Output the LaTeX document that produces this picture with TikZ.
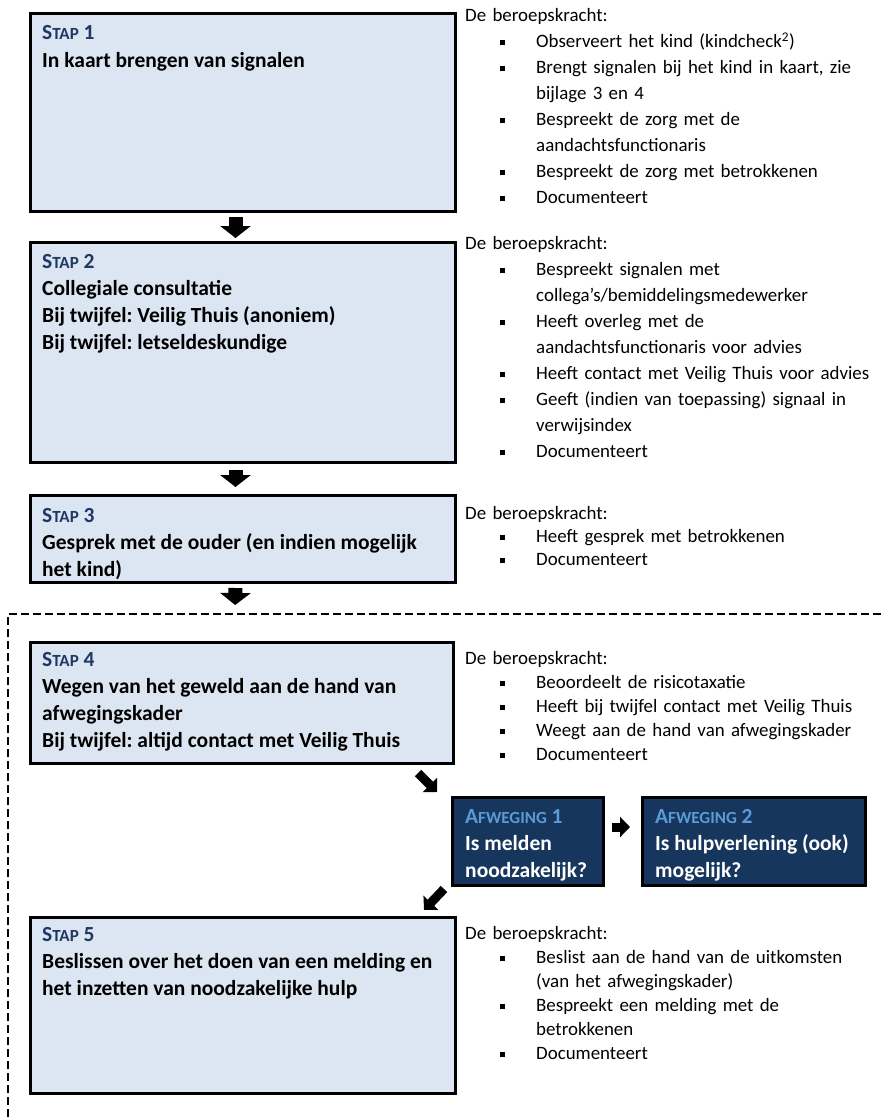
\documentclass[tikz,border=0pt]{standalone}
\usepackage{fontspec}
\setmainfont{Carlito}
\usetikzlibrary{arrows.meta}
\frenchspacing

\definecolor{stapfill}{HTML}{DCE6F2}
\definecolor{stapblue}{HTML}{1F3864}
\definecolor{wegnavy}{HTML}{17365D}
\definecolor{weglabel}{HTML}{5B9BD5}

% kopjes in (nagemaakte) kleinkapitaal
\newcommand{\stap}[1]{{\color{stapblue}S{\fontsize{17}{27}\selectfont TAP}~#1}}
\newcommand{\afw}[1]{{\color{weglabel}A{\fontsize{17}{27}\selectfont FWEGING}~#1}}

% opsomming met vierkante bolletjes
\newenvironment{taken}{\begin{list}{\rule[1.9pt]{5pt}{5pt}}{%
    \setlength{\leftmargin}{71pt}\setlength{\labelwidth}{30pt}%
    \setlength{\labelsep}{31pt}\setlength{\itemsep}{0pt}%
    \setlength{\parsep}{0pt}\setlength{\topsep}{0pt}%
    \setlength{\partopsep}{0pt}}}{\end{list}}

\tikzset{
    stapbox/.style={draw, line width=3pt, fill=stapfill, anchor=north west,
        inner sep=0pt, outer sep=0pt},
    wegbox/.style={draw, line width=3pt, fill=wegnavy, anchor=north west,
        inner sep=0pt, outer sep=0pt, minimum height=88pt},
    staptext/.style={anchor=north west, inner sep=0pt, align=left,
        font=\fontsize{21.5}{27}\selectfont\bfseries},
    wegtext/.style={staptext, text=white},
    takentext/.style={anchor=north west, inner sep=0pt, align=left,
        text width=416pt},
    blokpijl/.style={line width=14pt, -{Triangle[width=30pt, length=12pt]}},
    pijlklein/.style={line width=9pt, -{Triangle[width=20pt, length=10pt]}},
    kader/.style={line width=2pt, dash pattern=on 8pt off 4pt}
}

\begin{document}
\begin{tikzpicture}[x=1pt, y=-1pt]
    \useasboundingbox (0,0) rectangle (881,1119);

    % Stap 1: in kaart brengen
    \node[stapbox, minimum width=425pt, minimum height=198pt] (s1) at (30,13) {};
    \node[staptext, font=\fontsize{21.5}{28.5}\selectfont\bfseries] (s1t) at (42,25) {\stap{1}\\In kaart brengen van signalen};
    \node[takentext, font=\fontsize{18.9}{26}\selectfont] (s1r) at (465,8) {De beroepskracht:
        \begin{taken}
            \item Observeert het kind (kindcheck\textsuperscript{2})
            \item Brengt signalen bij het kind in kaart, zie\newline bijlage 3 en 4
            \item Bespreekt de zorg met de\newline aandachtsfunctionaris
            \item Bespreekt de zorg met betrokkenen
            \item Documenteert
        \end{taken}};

    % Stap 2: collegiale consultatie
    \node[stapbox, minimum width=425pt, minimum height=220pt] (s2) at (30,242) {};
    \node[staptext] (s2t) at (42,254) {\stap{2}\\Collegiale consultatie\\
        Bij twijfel: Veilig Thuis (anoniem)\\Bij twijfel: letseldeskundige};
    \node[takentext, font=\fontsize{18.9}{26}\selectfont] (s2r) at (465,236) {De beroepskracht:
        \begin{taken}
            \item Bespreekt signalen met\newline collega’s/bemiddelingsmedewerker
            \item Heeft overleg met de\newline aandachtsfunctionaris voor advies
            \item Heeft contact met Veilig Thuis voor advies
            \item Geeft (indien van toepassing) signaal in\newline verwijsindex
            \item Documenteert
        \end{taken}};

    % Stap 3: gesprek
    \node[stapbox, minimum width=425pt, minimum height=87pt] (s3) at (30,495) {};
    \node[staptext] (s3t) at (42,508) {\stap{3}\\Gesprek met de ouder (en indien mogelijk\\het kind)};
    \node[takentext, font=\fontsize{18.9}{23}\selectfont] (s3r) at (465,506) {De beroepskracht:
        \begin{taken}
            \item Heeft gesprek met betrokkenen
            \item Documenteert
        \end{taken}};

    % kader rond stap 4 en 5
    \draw[kader] (881,614) -- (8,614) -- (8,1119);

    % Stap 4: wegen
    \node[stapbox, minimum width=423pt, minimum height=121pt] (s4) at (30,642) {};
    \node[staptext] (s4t) at (42,652) {\stap{4}\\Wegen van het geweld aan de hand van\\
        afwegingskader\\Bij twijfel: altijd contact met Veilig Thuis};
    \node[takentext, font=\fontsize{18.9}{24}\selectfont] (s4r) at (465,651) {De beroepskracht:
        \begin{taken}
            \item Beoordeelt de risicotaxatie
            \item Heeft bij twijfel contact met Veilig Thuis
            \item Weegt aan de hand van afwegingskader
            \item Documenteert
        \end{taken}};

    % Afwegingen
    \node[wegbox, minimum width=151pt] (a1) at (452,797) {};
    \node[wegtext] (a1t) at (465,809) {\afw{1}\\Is melden\\noodzakelijk?};
    \node[wegbox, minimum width=223pt] (a2) at (642,797) {};
    \node[wegtext] (a2t) at (655,809) {\afw{2}\\Is hulpverlening (ook)\\mogelijk?};

    % Stap 5: beslissen
    \node[stapbox, minimum width=425pt, minimum height=176pt] (s5) at (30,917) {};
    \node[staptext] (s5t) at (42,927) {\stap{5}\\Beslissen over het doen van een melding en\\
        het inzetten van noodzakelijke hulp};
    \node[takentext, font=\fontsize{18.9}{24}\selectfont] (s5r) at (465,926) {De beroepskracht:
        \begin{taken}
            \item Beslist aan de hand van de uitkomsten\newline (van het afwegingskader)
            \item Bespreekt een melding met de\newline betrokkenen
            \item Documenteert
        \end{taken}};

    % pijlen
    \coordinate (kadertop) at (235,614);
    \coordinate (d1a) at (418,773);
    \coordinate (d1b) at (437,792);
    \coordinate (d2a) at (444,889);
    \coordinate (d2b) at (424,910);
    \draw[blokpijl, shorten <=6pt, shorten >=4pt] ([xshift=-7pt]s1.south) -- ([xshift=-7pt]s2.north);
    \draw[blokpijl, shorten <=8pt, shorten >=8pt] ([xshift=-7pt]s2.south) -- ([xshift=-7pt]s3.north);
    \draw[blokpijl, shorten <=6pt, shorten >=9pt] ([xshift=-7pt]s3.south) -- (kadertop);
    \draw[pijlklein] (d1a) -- (d1b);
    \draw[pijlklein, shorten <=9pt, shorten >=12pt] ([yshift=14pt]a1.east) -- ([yshift=14pt]a2.west);
    \draw[pijlklein] (d2a) -- (d2b);
\end{tikzpicture}
\end{document}
